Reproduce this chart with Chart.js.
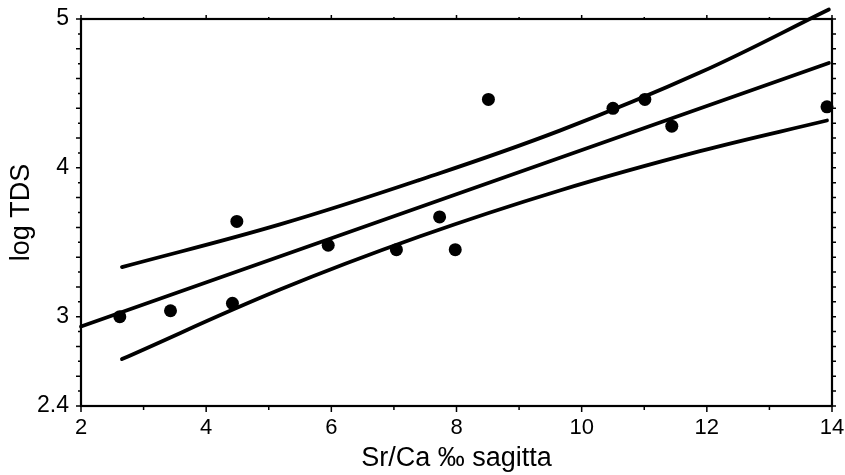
<!DOCTYPE html>
<html>
<head>
<meta charset="utf-8">
<script src="https://cdn.jsdelivr.net/npm/chart.js@4.4.0/dist/chart.umd.min.js"></script>
<style>
  html, body { margin: 0; padding: 0; background: #fff; }
  #wrap { width: 845px; height: 475px; position: relative; }
</style>
</head>
<body>
<div id="wrap"><canvas id="chart"></canvas></div>
<script>
"use strict";

// measured otolith samples
let srCa = [2.62, 3.43, 4.42, 4.49, 5.95, 7.04, 7.73, 7.98, 8.51, 10.50, 11.01, 11.44, 13.92];
let logTds = [3.00, 3.04, 3.09, 3.64, 3.48, 3.45, 3.67, 3.45, 4.46, 4.40, 4.46, 4.28, 4.41];

// regression line and confidence band
let fitX = [2, 13.95];
let fitY = [2.934, 4.704];
let upperX = [2.655, 5.18, 7.42, 9.65, 11.89, 13.95];
let upperY = [3.333, 3.62, 3.92, 4.25, 4.64, 5.064];
let lowerX = [2.655, 5.18, 7.42, 9.65, 11.89, 13.92];
let lowerY = [2.715, 3.182, 3.54, 3.848, 4.112, 4.318];

// axis ticks
let xTickLabels = [2, 4, 6, 8, 10, 12, 14];
let xMinorTicks = [3, 5, 7, 9, 11, 13];
let yTickLabels = [2.4, 3, 4, 5];
let yMinorStep = 0.1;

let fontFamily = "'Liberation Sans', Arial, Helvetica, sans-serif";

function toPoints(xs, ys) {
  return xs.map((x, i) => ({ x: x, y: ys[i] }));
}

// box around the plot with tick marks on all four sides
let boxTicks = {
  id: 'boxTicks',
  afterDraw(chart) {
    let ctx = chart.ctx;
    let area = chart.chartArea;
    let xs = chart.scales.x;
    let ys = chart.scales.y;
    ctx.save();
    ctx.strokeStyle = '#000';
    ctx.lineWidth = 1.5;
    ctx.beginPath();
    xTickLabels.forEach(v => {
      let px = xs.getPixelForValue(v);
      ctx.moveTo(px, area.bottom); ctx.lineTo(px, area.bottom + 6);
      ctx.moveTo(px, area.top); ctx.lineTo(px, area.top - 4);
    });
    xMinorTicks.forEach(v => {
      let px = xs.getPixelForValue(v);
      ctx.moveTo(px, area.bottom); ctx.lineTo(px, area.bottom + 4);
      ctx.moveTo(px, area.top); ctx.lineTo(px, area.top - 2);
    });
    let first = Math.round(ys.min / yMinorStep);
    let last = Math.round(ys.max / yMinorStep);
    for (let n = first; n <= last; n++) {
      let py = ys.getPixelForValue(n * yMinorStep);
      let len = n % 2 === 0 ? 5 : 3;
      ctx.moveTo(area.left, py); ctx.lineTo(area.left - len, py);
      ctx.moveTo(area.right, py); ctx.lineTo(area.right + 4, py);
    }
    ctx.stroke();
    ctx.lineWidth = 2.2;
    ctx.strokeRect(area.left, area.top, area.right - area.left, area.bottom - area.top);
    ctx.restore();
  }
};

let lineStyle = {
  showLine: true,
  borderColor: '#000',
  borderWidth: 3.8,
  pointRadius: 0,
  pointHoverRadius: 0,
  tension: 0.4,
  borderCapStyle: 'round',
  clip: false,
};

let config = {
  type: 'scatter',
  data: {
    datasets: [
      Object.assign({ label: 'upper', data: toPoints(upperX, upperY) }, lineStyle),
      Object.assign({ label: 'fit', data: toPoints(fitX, fitY) }, lineStyle),
      Object.assign({ label: 'lower', data: toPoints(lowerX, lowerY) }, lineStyle),
      {
        label: 'samples',
        data: toPoints(srCa, logTds),
        backgroundColor: '#000',
        borderWidth: 0,
        pointRadius: 6.5,
        pointHoverRadius: 6.5,
        clip: false,
      }
    ]
  },
  plugins: [boxTicks],
  options: {
    responsive: true,
    maintainAspectRatio: false,
    animation: false,
    events: [],
    layout: { padding: { top: 19, right: 13, left: 0, bottom: 0 } },
    plugins: {
      legend: { display: false },
      tooltip: { enabled: false },
    },
    scales: {
      x: {
        type: 'linear',
        min: 2,
        max: 14,
        afterFit: s => { s.height = 69; s.paddingLeft = 0; s.paddingRight = 0; },
        afterBuildTicks: s => { s.ticks = xTickLabels.map(v => ({ value: v })); },
        grid: { display: false, drawTicks: false },
        border: { display: false },
        ticks: {
          autoSkip: false,
          maxRotation: 0,
          padding: 9,
          color: '#000',
          font: { family: fontFamily, size: 22 },
          callback: v => String(v),
        },
        title: {
          display: true,
          text: 'Sr/Ca ‰ sagitta',
          color: '#000',
          font: { family: fontFamily, size: 27 },
          padding: { top: 0, bottom: 0 },
        },
      },
      y: {
        type: 'linear',
        min: 2.4,
        max: 5,
        afterFit: s => { s.width = 81; s.paddingTop = 0; s.paddingBottom = 0; },
        afterBuildTicks: s => { s.ticks = yTickLabels.map(v => ({ value: v })); },
        grid: { display: false, drawTicks: false },
        border: { display: false },
        ticks: {
          autoSkip: false,
          padding: 12,
          color: '#000',
          font: { family: fontFamily, size: 23 },
          callback: v => String(v),
        },
        title: {
          display: true,
          text: 'log TDS',
          color: '#000',
          font: { family: fontFamily, size: 27 },
          padding: { top: 5, bottom: 0 },
        },
      },
    },
  },
};

let myChart = new Chart(document.getElementById('chart'), config);
</script>
</body>
</html>
